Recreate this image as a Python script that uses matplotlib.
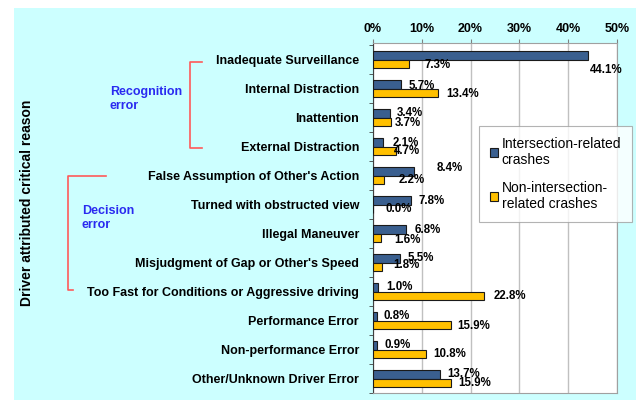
import matplotlib.pyplot as plt
import matplotlib.patches as mpatches
import numpy as np

plt.rcParams['font.family'] = ['Liberation Sans', 'DejaVu Sans']

categories = [
    "Inadequate Surveillance",
    "Internal Distraction",
    "Inattention",
    "External Distraction",
    "False Assumption of Other's Action",
    "Turned with obstructed view",
    "Illegal Maneuver",
    "Misjudgment of Gap or Other's Speed",
    "Too Fast for Conditions or Aggressive driving",
    "Performance Error",
    "Non-performance Error",
    "Other/Unknown Driver Error",
]
intersection = [44.1, 5.7, 3.4, 2.1, 8.4, 7.8, 6.8, 5.5, 1.0, 0.8, 0.9, 13.7]
non_intersection = [7.3, 13.4, 3.7, 4.7, 2.2, 0.0, 1.6, 1.8, 22.8, 15.9, 10.8, 15.9]
xticks = [0, 10, 20, 30, 40, 50]

# label nudges in pixels (dx from bar end, dy downward)
blue_dx = [2, 8, 7, 9, 23, 7, 8, 8, 8, 7, 7, 7]
blue_dy = [14, 1, -1, 0, -3, 1, 1, 0, 0, 0, 0, 0]
yel_dx = [16, 8, 4, -2, 15, 13, 13, 11, 9, 7, 8, 8]
yel_dy = [1, 1, 1, 0, 0, 0, 2, -2, 0, 1, 0, 0]

blue = "#3a5f8f"
yellow = "#ffc000"
cyan = "#ccffff"

fig = plt.figure(figsize=(6.36, 4.0), dpi=100)
fig.patch.set_facecolor("white")
fig.patches.append(mpatches.Rectangle((14 / 636, 0), 1, 1 - 8 / 400,
                                      transform=fig.transFigure,
                                      facecolor=cyan, edgecolor="none", zorder=-10))

ax = fig.add_axes([373 / 636, 1 - 393 / 400, 244 / 636, 350 / 400])
ax.set_facecolor("white")

y = np.arange(len(categories))
h = 0.29
ax.barh(y - h / 2, intersection, height=h, color=blue, edgecolor="#1a1a1a",
        linewidth=0.8, zorder=3, label="Intersection-related\ncrashes")
ax.barh(y + h / 2, non_intersection, height=h, color=yellow, edgecolor="#1a1a1a",
        linewidth=0.8, zorder=3, label="Non-intersection-\nrelated crashes")

px = 0.72
for i in range(len(categories)):
    ax.annotate(f"{intersection[i]:.1f}%", (intersection[i], y[i] - h / 2),
                xytext=(blue_dx[i] * px, -blue_dy[i] * px), textcoords="offset points",
                ha="left", va="center", fontsize=8.3, fontweight="bold", zorder=5)
    ax.annotate(f"{non_intersection[i]:.1f}%", (non_intersection[i], y[i] + h / 2),
                xytext=(yel_dx[i] * px, -yel_dy[i] * px), textcoords="offset points",
                ha="left", va="center", fontsize=8.3, fontweight="bold", zorder=5)

ax.set_xlim(0, 50)
ax.set_ylim(11.45, -0.58)
ax.set_xticks(xticks)
ax.set_xticklabels([f"{t}%" for t in xticks], fontsize=9, fontweight="bold")
ax.xaxis.tick_top()
ax.tick_params(axis="x", length=3, pad=3, color="#808080")
ax.grid(axis="x", color="#c0c0c0", linewidth=1, zorder=0)

ax.set_yticks(np.arange(-0.5, 11.6, 1), minor=True)
ax.set_yticks(y)
ax.set_yticklabels(categories, fontsize=9, fontweight="bold")
ax.tick_params(axis="y", which="major", length=0, pad=10)
ax.tick_params(axis="y", which="minor", length=3, color="#404040")

for s in ["top", "right", "bottom"]:
    ax.spines[s].set_color("#a0a0a0")
ax.spines["left"].set_color("#404040")

leg = ax.legend(loc="upper left", bbox_to_anchor=(0.434, 0.763), fontsize=10,
                frameon=True, fancybox=False, edgecolor="#a0a0a0",
                handlelength=0.6, handleheight=0.6, handletextpad=0.25,
                labelspacing=1.0, borderpad=0.8, borderaxespad=0)
leg.get_frame().set_linewidth(0.8)

# axis title
fig.text(27 / 636, 1 - 203 / 400, "Driver attributed critical reason", rotation=90,
         ha="center", va="center", fontsize=10, fontweight="bold")

# group brackets
red = "#ff5a5a"
def fx(v):
    return v / 636
def fy(v):
    return 1 - v / 400

fig.add_artist(plt.Line2D([fx(202), fx(190), fx(190), fx(202)],
                          [fy(62), fy(62), fy(148), fy(148)], color=red, linewidth=1.2))
fig.add_artist(plt.Line2D([fx(106), fx(68), fx(68), fx(73)],
                          [fy(176), fy(176), fy(290), fy(290)], color=red, linewidth=1.2))
fig.text(fx(110), fy(99), "Recognition\nerror", color="#2a2af0", fontsize=9,
         fontweight="bold", ha="left", va="center", linespacing=1.3)
fig.text(fx(82), fy(218), "Decision\nerror", color="#2a2af0", fontsize=9,
         fontweight="bold", ha="left", va="center", linespacing=1.3)

fig.savefig("out.png", dpi=100)
